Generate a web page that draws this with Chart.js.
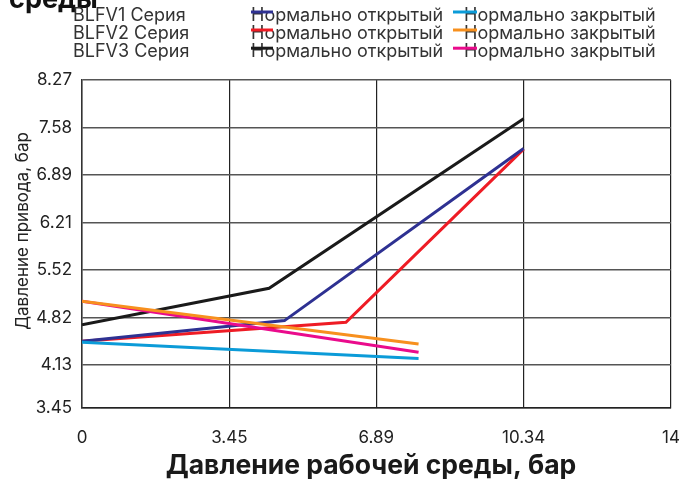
<!DOCTYPE html>
<html>
<head>
<meta charset="utf-8">
<script src="https://cdn.jsdelivr.net/npm/chart.js@4.4.1/dist/chart.umd.min.js"></script>
<style>
  html, body { margin: 0; padding: 0; background: #fff; }
  #wrap { width: 688px; height: 479px; position: relative; }
</style>
</head>
<body>
<div id="wrap"><canvas id="c" width="688" height="479"></canvas></div>
<script>
// ---- data ----
const titleTail = 'среды';
const xAxisTitle = 'Давление рабочей среды, бар';
const yAxisTitle = 'Давление привода, бар';
const seriesGroups = ['BLFV1 Серия', 'BLFV2 Серия', 'BLFV3 Серия'];
const openLabel = 'Нормально открытый';
const closedLabel = 'Нормально закрытый';

const xTickValues = [0, 3.45, 6.89, 10.34, 13.79];
const xTickLabels = ['0', '3.45', '6.89', '10.34', '14'];
const yTickValues = [3.515, 4.137, 4.826, 5.516, 6.205, 6.895, 7.584, 8.274];
const yTickLabels = ['3.45', '4.13', '4.82', '5.52', '6.21', '6.89', '7.58', '8.27'];

const blfv1OpenX = [0, 4.74, 10.34];
const blfv1OpenY = [4.48, 4.78, 7.28];
const blfv1ClosedX = [0, 7.88];
const blfv1ClosedY = [4.465, 4.23];
const blfv2OpenX = [0, 6.18, 10.34];
const blfv2OpenY = [4.48, 4.755, 7.27];
const blfv2ClosedX = [0, 7.88];
const blfv2ClosedY = [5.06, 4.44];
const blfv3OpenX = [0, 4.38, 10.34];
const blfv3OpenY = [4.72, 5.25, 7.71];
const blfv3ClosedX = [0, 7.88];
const blfv3ClosedY = [5.06, 4.32];

const colors = {
  o1: '#2e3192', c1: '#0b9bd8',
  o2: '#ee1c25', c2: '#f7901e',
  o3: '#1a1a1a', c3: '#ea0b8c'
};

function pts(xs, ys) { return xs.map((x, i) => ({ x: x, y: ys[i] })); }

const FONT = 'Inter, "Noto Sans", sans-serif';

const datasets = [
  { label: seriesGroups[0] + ' ' + openLabel, data: pts(blfv1OpenX, blfv1OpenY), borderColor: colors.o1, order: 3 },
  { label: seriesGroups[0] + ' ' + closedLabel, data: pts(blfv1ClosedX, blfv1ClosedY), borderColor: colors.c1, order: 2 },
  { label: seriesGroups[1] + ' ' + openLabel, data: pts(blfv2OpenX, blfv2OpenY), borderColor: colors.o2, order: 4 },
  { label: seriesGroups[1] + ' ' + closedLabel, data: pts(blfv2ClosedX, blfv2ClosedY), borderColor: colors.c2, order: 1 },
  { label: seriesGroups[2] + ' ' + openLabel, data: pts(blfv3OpenX, blfv3OpenY), borderColor: colors.o3, order: 5 },
  { label: seriesGroups[2] + ' ' + closedLabel, data: pts(blfv3ClosedX, blfv3ClosedY), borderColor: colors.c3, order: 2 }
].map(d => Object.assign(d, { borderWidth: 3, pointRadius: 0, fill: false, tension: 0, borderCapStyle: 'butt' }));

const decor = {
  id: 'decor',
  afterDraw(chart) {
    const ctx = chart.ctx;
    ctx.save();
    // cut-off title
    ctx.fillStyle = '#111';
    ctx.font = 'bold 27px ' + FONT;
    ctx.textBaseline = 'alphabetic';
    ctx.textAlign = 'left';
    ctx.fillText(titleTail, 9, 8);

    // legend
    ctx.font = '18px ' + FONT;
    ctx.textBaseline = 'middle';
    const rowY = [15.5, 33.5, 51.7];
    const ds = chart.data.datasets;
    for (let r = 0; r < 3; r++) {
      const y = rowY[r];
      ctx.fillStyle = '#333';
      ctx.fillText(seriesGroups[r], 73, y);
      ctx.fillText(openLabel, 251, y);
      ctx.fillText(closedLabel, 464, y);
      ctx.lineWidth = 3;
      ctx.strokeStyle = ds[r * 2].borderColor;
      ctx.beginPath(); ctx.moveTo(251, y - 3.5); ctx.lineTo(273, y - 3.5); ctx.stroke();
      ctx.strokeStyle = ds[r * 2 + 1].borderColor;
      ctx.beginPath(); ctx.moveTo(453, y - 3.5); ctx.lineTo(477, y - 3.5); ctx.stroke();
    }

    // axis titles
    ctx.fillStyle = '#222';
    ctx.font = '17px ' + FONT;
    ctx.textAlign = 'center';
    ctx.save();
    ctx.translate(23, 231);
    ctx.rotate(-Math.PI / 2);
    ctx.fillText(yAxisTitle, 0, 0);
    ctx.restore();

    ctx.fillStyle = '#1a1a1a';
    ctx.font = 'bold 26.5px ' + FONT;
    ctx.fillText(xAxisTitle, 371, 466);
    ctx.restore();
  }
};

new Chart(document.getElementById('c'), {
  type: 'line',
  data: { datasets: datasets },
  plugins: [decor],
  options: {
    responsive: false,
    animation: false,
    devicePixelRatio: 1,
    layout: { padding: { top: 80, right: 17, left: 0, bottom: 0 } },
    plugins: { legend: { display: false }, tooltip: { enabled: false } },
    scales: {
      x: {
        type: 'linear',
        min: 0, max: 13.79,
        afterBuildTicks(scale) { scale.ticks = xTickValues.map(v => ({ value: v })); },
        afterFit(scale) { scale.height = 71.3; scale.paddingLeft = 0; scale.paddingRight = 0; },
        ticks: {
          color: '#222',
          font: { family: FONT, size: 17 },
          padding: 20,
          maxRotation: 0,
          autoSkip: false,
          callback: (v, i) => xTickLabels[i]
        },
        grid: { color: '#222', lineWidth: 1.2, drawTicks: false },
        border: { color: '#222', width: 1.5 }
      },
      y: {
        type: 'linear',
        min: 3.515, max: 8.274,
        afterBuildTicks(scale) { scale.ticks = yTickValues.map(v => ({ value: v })); },
        afterFit(scale) { scale.width = 82; scale.paddingTop = 0; scale.paddingBottom = 0; },
        ticks: {
          color: '#222',
          font: { family: FONT, size: 17 },
          padding: 10,
          autoSkip: false,
          callback: (v, i) => yTickLabels[i]
        },
        grid: { color: '#555', lineWidth: 1.5, drawTicks: false },
        border: { color: '#333', width: 1.5 }
      }
    }
  }
});
</script>
</body>
</html>
